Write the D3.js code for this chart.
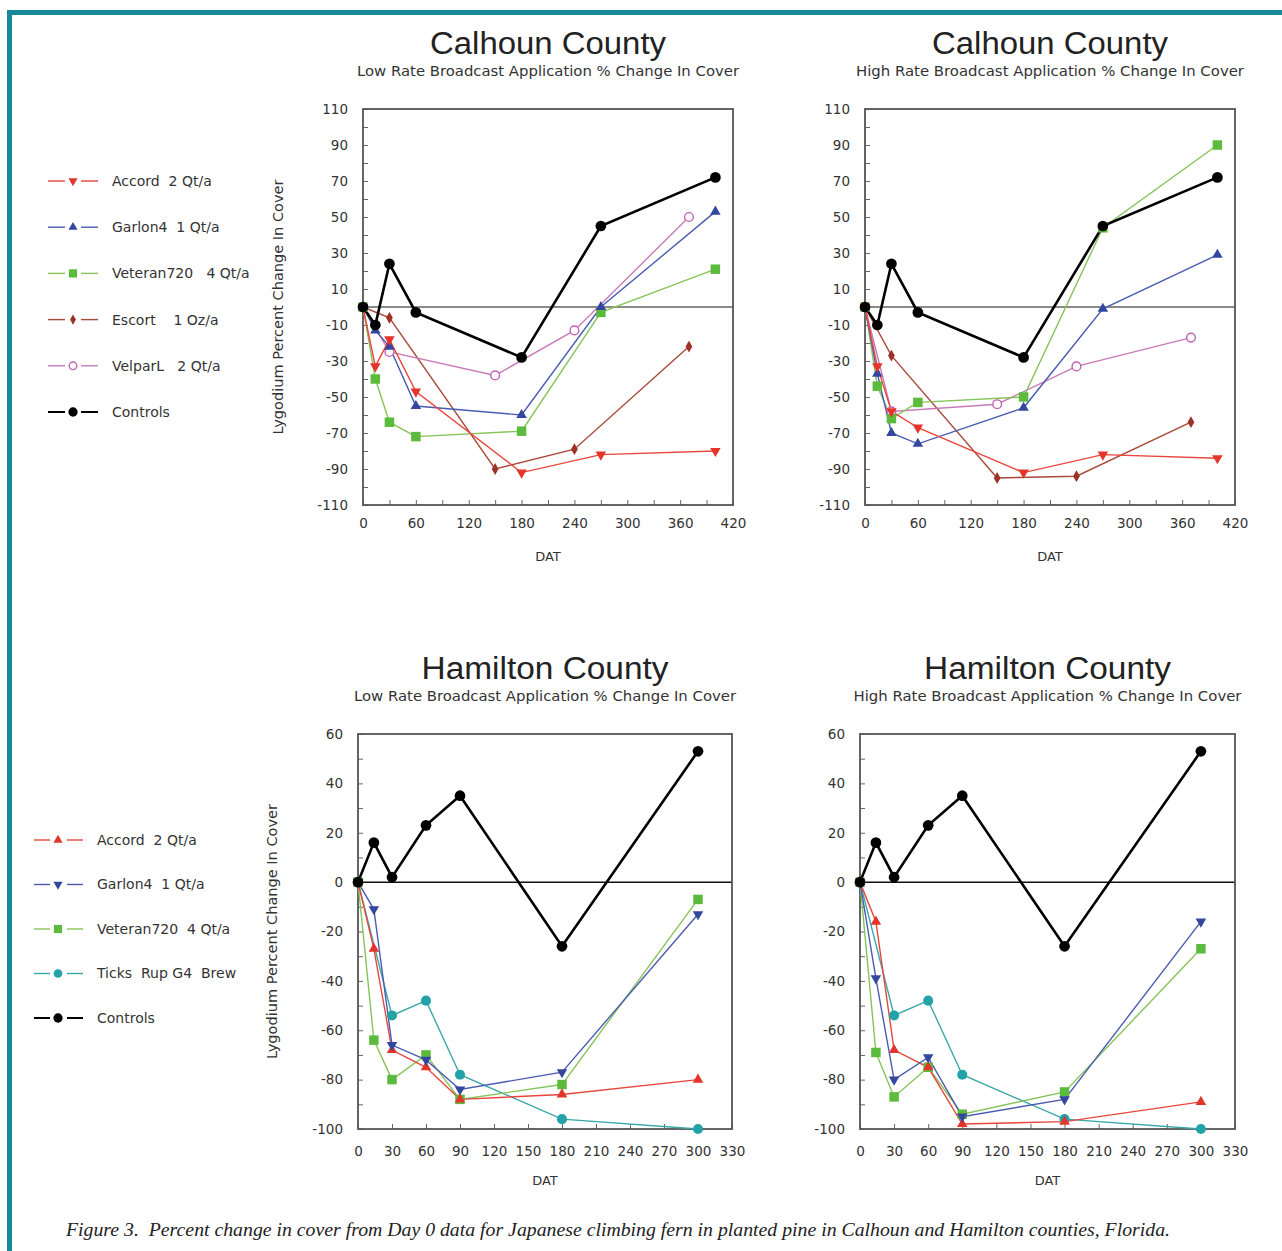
<!DOCTYPE html>
<html>
<head>
<meta charset="utf-8">
<script src="https://cdn.jsdelivr.net/npm/d3@7"></script>
<style>
  body { margin: 0; background: #fff; }
  svg { display: block; }
  text { font-family: "DejaVu Sans", sans-serif; fill: #333; white-space: pre; }
</style>
</head>
<body>
<svg width="1282" height="1251"></svg>
<script>
// ---------- data ----------
// Calhoun County, days after treatment
var calDays = [0, 14, 30, 60, 180, 270, 400];
var calDaysB = [0, 30, 150, 240, 370];   // Escort / Velpar sampled on other dates

var calLowAccord   = [0, -33, -18, -47, -92, -82, -80];
var calLowGarlon   = [0, -13, -22, -55, -60, 0, 53];
var calLowVeteran  = [0, -40, -64, -72, -69, -3, 21];
var calLowEscort   = [0, -6, -90, -79, -22];
var calLowVelpar   = [0, -25, -38, -13, 50];
var calLowControls = [0, -10, 24, -3, -28, 45, 72];

var calHighAccord   = [0, -33, -58, -67, -92, -82, -84];
var calHighGarlon   = [0, -37, -70, -76, -56, -1, 29];
var calHighVeteran  = [0, -44, -62, -53, -50, 44, 90];
var calHighEscort   = [0, -27, -95, -94, -64];
var calHighVelpar   = [0, -58, -54, -33, -17];
var calHighControls = [0, -10, 24, -3, -28, 45, 72];

// Hamilton County
var hamDays = [0, 14, 30, 60, 90, 180, 300];
var hamDaysB = [0, 30, 60, 90, 180, 300];   // Ticks Rup G4 Brew

var hamLowAccord   = [0, -27, -68, -75, -88, -86, -80];
var hamLowGarlon   = [0, -11, -66, -72, -84, -77, -13];
var hamLowVeteran  = [0, -64, -80, -70, -88, -82, -7];
var hamLowTicks    = [0, -54, -48, -78, -96, -100];
var hamLowControls = [0, 16, 2, 23, 35, -26, 53];

var hamHighAccord   = [0, -16, -68, -75, -98, -97, -89];
var hamHighGarlon   = [0, -39, -80, -71, -95, -88, -16];
var hamHighVeteran  = [0, -69, -87, -75, -94, -85, -27];
var hamHighTicks    = [0, -54, -48, -78, -96, -100];
var hamHighControls = [0, 16, 2, 23, 35, -26, 53];

var calLegend = ["Accord  2 Qt/a", "Garlon4  1 Qt/a", "Veteran720   4 Qt/a", "Escort    1 Oz/a", "VelparL   2 Qt/a", "Controls"];
var hamLegend = ["Accord  2 Qt/a", "Garlon4  1 Qt/a", "Veteran720  4 Qt/a", "Ticks  Rup G4  Brew", "Controls"];

var calXTicks = d3.range(0, 421, 30);
var calYTicks = d3.range(-110, 111, 10);
var hamXTicks = d3.range(0, 331, 30);
var hamYTicks = d3.range(-100, 61, 10);

// ---------- styles ----------
var st = {
  accordDown: { color: "#e3352b", line: "#e8463c", sym: "tri", rot: 180, size: 48 },
  accordUp:   { color: "#e3352b", line: "#e8463c", sym: "tri", rot: 0, size: 48 },
  garlonUp:   { color: "#34479e", line: "#4a5cb0", sym: "tri", rot: 0, size: 48 },
  garlonDown: { color: "#34479e", line: "#4a5cb0", sym: "tri", rot: 180, size: 48 },
  veteran:    { color: "#5cba3c", line: "#86c45a", sym: "sq", size: 90 },
  escort:     { color: "#9c3326", line: "#a8493a", sym: "dia", size: 40 },
  velpar:     { color: "#c462b4", line: "#c87ab8", sym: "open", size: 60 },
  ticks:      { color: "#23a3a8", line: "#3aa8a8", sym: "circ", size: 80 },
  controls:   { color: "#000", line: "#000", sym: "circ", size: 90, width: 2.6 }
};

function series(days, vals, style) {
  return { pts: days.map(function (d, i) { return [d, vals[i]]; }), s: style };
}

var panels = [
  { left: 363, top: 109, w: 370, h: 396, xMax: 420, yMin: -110, yMax: 110,
    xTicks: calXTicks, xLab: 60, yTicks: calYTicks, yLab: 20, zero: "#8a8a8a", zeroW: 2.2,
    title: "Calhoun County", sub: "Low Rate Broadcast Application % Change In Cover", subW: 382, titleW: 236, xPad: 13, yTitleX: 278,
    data: [series(calDaysB, calLowEscort, st.escort), series(calDaysB, calLowVelpar, st.velpar),
           series(calDays, calLowVeteran, st.veteran), series(calDays, calLowGarlon, st.garlonUp),
           series(calDays, calLowAccord, st.accordDown), series(calDays, calLowControls, st.controls)] },
  { left: 865, top: 109, w: 370, h: 396, xMax: 420, yMin: -110, yMax: 110,
    xTicks: calXTicks, xLab: 60, yTicks: calYTicks, yLab: 20, zero: "#8a8a8a", zeroW: 2.2,
    title: "Calhoun County", sub: "High Rate Broadcast Application % Change In Cover", subW: 388, titleW: 236, xPad: 13, yTitleX: null,
    data: [series(calDaysB, calHighEscort, st.escort), series(calDaysB, calHighVelpar, st.velpar),
           series(calDays, calHighVeteran, st.veteran), series(calDays, calHighGarlon, st.garlonUp),
           series(calDays, calHighAccord, st.accordDown), series(calDays, calHighControls, st.controls)] },
  { left: 358, top: 734, w: 374, h: 395, xMax: 330, yMin: -100, yMax: 60,
    xTicks: hamXTicks, xLab: 30, yTicks: hamYTicks, yLab: 20, zero: "#111", zeroW: 1.5,
    title: "Hamilton County", sub: "Low Rate Broadcast Application % Change In Cover", subW: 382, titleW: 247, xPad: 17, yTitleX: 272,
    data: [series(hamDaysB, hamLowTicks, st.ticks), series(hamDays, hamLowVeteran, st.veteran),
           series(hamDays, hamLowAccord, st.accordUp), series(hamDays, hamLowGarlon, st.garlonDown),
           series(hamDays, hamLowControls, st.controls)] },
  { left: 860, top: 734, w: 375, h: 395, xMax: 330, yMin: -100, yMax: 60,
    xTicks: hamXTicks, xLab: 30, yTicks: hamYTicks, yLab: 20, zero: "#111", zeroW: 1.5,
    title: "Hamilton County", sub: "High Rate Broadcast Application % Change In Cover", subW: 388, titleW: 247, xPad: 17, yTitleX: null,
    data: [series(hamDaysB, hamHighTicks, st.ticks), series(hamDays, hamHighVeteran, st.veteran),
           series(hamDays, hamHighAccord, st.accordUp), series(hamDays, hamHighGarlon, st.garlonDown),
           series(hamDays, hamHighControls, st.controls)] }
];

var svg = d3.select("svg");

// page frame (teal rule top and left)
svg.append("rect").attr("x", 7).attr("y", 10).attr("width", 1275).attr("height", 5).attr("fill", "#16899a");
svg.append("rect").attr("x", 7).attr("y", 10).attr("width", 5).attr("height", 1241).attr("fill", "#16899a");

function drawMarker(g, s, x, y) {
  var type = s.sym === "tri" ? d3.symbolTriangle : s.sym === "sq" ? d3.symbolSquare :
             s.sym === "dia" ? d3.symbolDiamond : d3.symbolCircle;
  var p = g.append("path")
    .attr("d", d3.symbol().type(type).size(s.size)())
    .attr("transform", "translate(" + x + "," + y + ")" + (s.rot ? " rotate(" + s.rot + ")" : ""));
  if (s.sym === "open") {
    p.attr("fill", "#fff").attr("stroke", s.color).attr("stroke-width", 1.4);
  } else {
    p.attr("fill", s.color);
  }
}

panels.forEach(function (p) {
  var x = d3.scaleLinear().domain([0, p.xMax]).range([p.left, p.left + p.w]);
  var y = d3.scaleLinear().domain([p.yMin, p.yMax]).range([p.top + p.h, p.top]);
  var cx = p.left + p.w / 2;
  var g = svg.append("g");

  // titles
  g.append("text").attr("x", cx).attr("y", p.top - 55).attr("text-anchor", "middle")
    .attr("textLength", p.titleW).attr("lengthAdjust", "spacingAndGlyphs")
    .style("font-family", "'Liberation Sans', sans-serif").style("font-size", "31px").style("fill", "#222")
    .text(p.title);
  g.append("text").attr("x", cx).attr("y", p.top - 33).attr("text-anchor", "middle")
    .attr("textLength", p.subW).attr("lengthAdjust", "spacingAndGlyphs")
    .style("font-size", "13.5px").text(p.sub);

  // axes
  var ya = g.append("g").attr("transform", "translate(" + p.left + ",0)")
    .call(d3.axisLeft(y).tickValues(p.yTicks).tickSize(-5).tickPadding(15)
      .tickFormat(function (d) { return (d - p.yMax) % p.yLab === 0 ? String(d) : ""; }));
  var xa = g.append("g").attr("transform", "translate(0," + (p.top + p.h) + ")")
    .call(d3.axisBottom(x).tickValues(p.xTicks).tickSize(-5).tickPadding(p.xPad)
      .tickFormat(function (d) { return d % p.xLab === 0 ? String(d) : ""; }));
  [ya, xa].forEach(function (a) {
    a.select(".domain").remove();
    a.selectAll("line").attr("stroke", "#666");
    a.selectAll("text").style("font-size", "13.5px").style("fill", "#333").style("font-family", "'DejaVu Sans', sans-serif");
  });

  // zero line
  g.append("line").attr("x1", p.left).attr("x2", p.left + p.w).attr("y1", y(0)).attr("y2", y(0))
    .attr("stroke", p.zero).attr("stroke-width", p.zeroW);

  // frame
  g.append("rect").attr("x", p.left).attr("y", p.top).attr("width", p.w).attr("height", p.h)
    .attr("fill", "none").attr("stroke", "#555").attr("stroke-width", 1.8);

  g.append("text").attr("x", cx).attr("y", p.top + p.h + 56).attr("text-anchor", "middle")
    .style("font-size", "13px").text("DAT");

  if (p.yTitleX) {
    g.append("text").attr("transform", "translate(" + p.yTitleX + "," + (p.top + p.h / 2) + ") rotate(-90)")
      .attr("text-anchor", "middle").attr("dy", "0.35em").style("font-size", "14px")
      .attr("textLength", 255).attr("lengthAdjust", "spacingAndGlyphs")
      .text("Lygodium Percent Change In Cover");
  }

  var line = d3.line().x(function (d) { return x(d[0]); }).y(function (d) { return y(d[1]); });
  p.data.forEach(function (sr) {
    g.append("path").attr("d", line(sr.pts)).attr("fill", "none")
      .attr("stroke", sr.s.line).attr("stroke-width", sr.s.width || 1.4);
  });
  p.data.forEach(function (sr) {
    sr.pts.forEach(function (d) { drawMarker(g, sr.s, x(d[0]), y(d[1])); });
  });
});

// legends
function legend(items, styles, x0, y0, step, segL, segR, textX) {
  var lg = svg.append("g");
  items.forEach(function (name, i) {
    var s = styles[i], yy = y0 + i * step;
    lg.append("line").attr("x1", segL[0]).attr("x2", segL[1]).attr("y1", yy).attr("y2", yy)
      .attr("stroke", s.line).attr("stroke-width", s === st.controls ? 2 : 1.4);
    lg.append("line").attr("x1", segR[0]).attr("x2", segR[1]).attr("y1", yy).attr("y2", yy)
      .attr("stroke", s.line).attr("stroke-width", s === st.controls ? 2 : 1.4);
    drawMarker(lg, Object.assign({}, s, { size: s.size * 0.75 }), x0, yy);
    lg.append("text").attr("x", textX).attr("y", yy).attr("dy", "0.35em")
      .style("font-size", "14px").text(name);
  });
}
legend(calLegend, [st.accordDown, st.garlonUp, st.veteran, st.escort, st.velpar, st.controls],
  73, 181, 46.2, [48, 65], [81, 98], 112);
legend(hamLegend, [st.accordUp, st.garlonDown, st.veteran, st.ticks, st.controls],
  58, 840, 44.5, [34, 50], [67, 83], 97);

// caption
svg.append("text").attr("x", 66).attr("y", 1236)
  .attr("textLength", 1104).attr("lengthAdjust", "spacingAndGlyphs")
  .style("font-family", "'Liberation Serif', serif").style("font-style", "italic")
  .style("font-size", "19.5px").style("fill", "#222")
  .text("Figure 3.  Percent change in cover from Day 0 data for Japanese climbing fern in planted pine in Calhoun and Hamilton counties, Florida.");
</script>
</body>
</html>
